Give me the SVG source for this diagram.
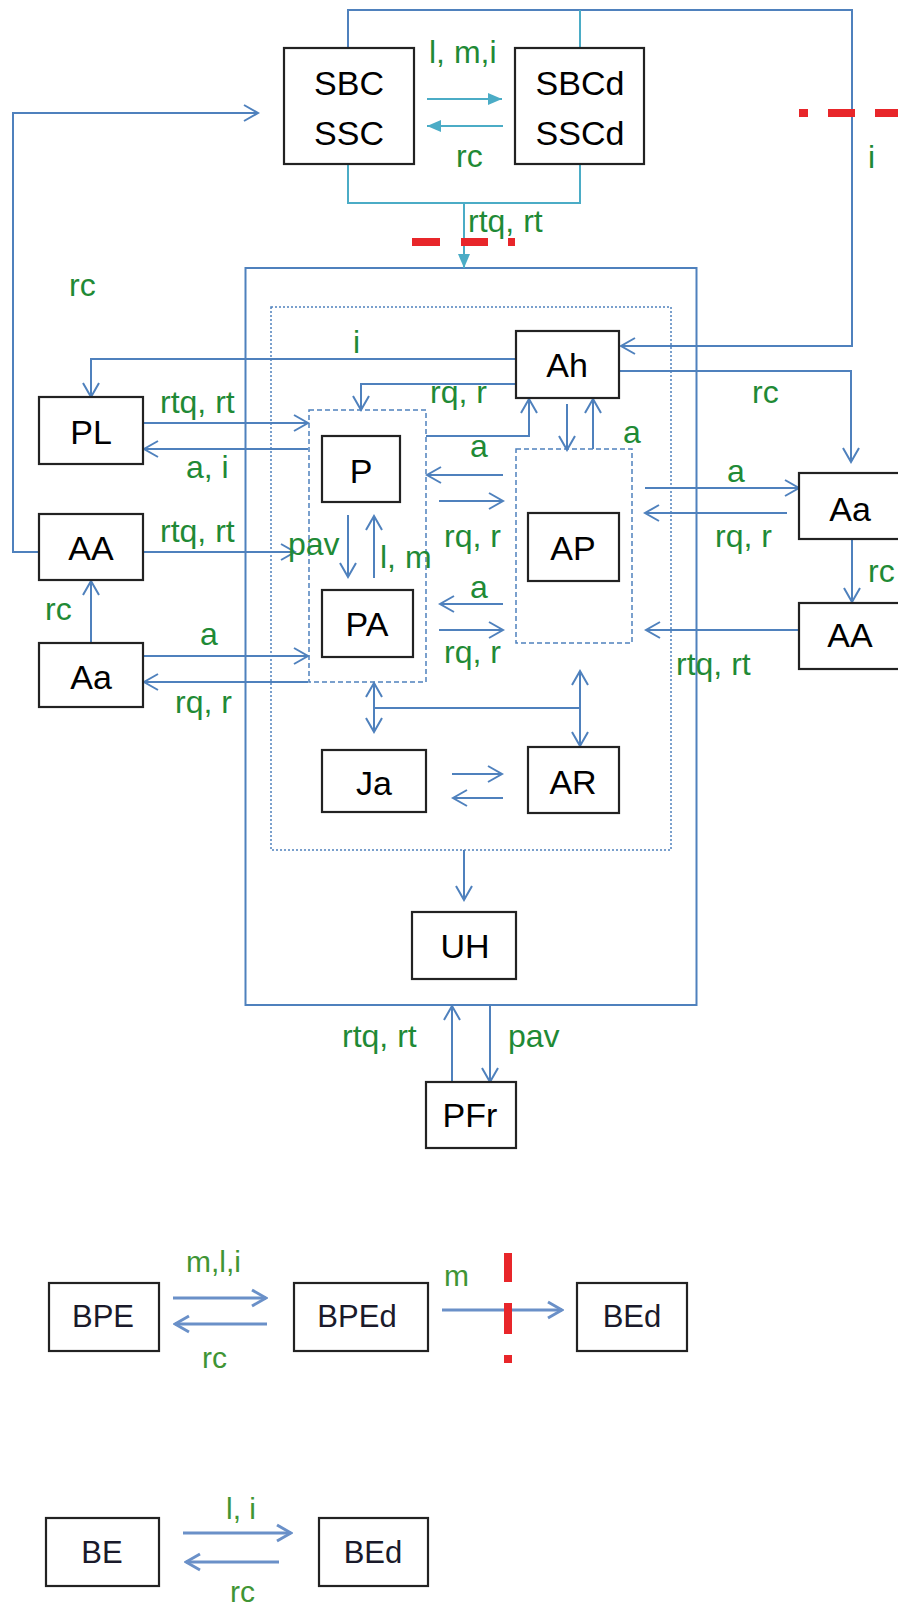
<svg xmlns="http://www.w3.org/2000/svg" width="898" height="1608" viewBox="0 0 898 1608">
<defs>
<style>
.bx{fill:#fff;stroke:#222;stroke-width:2.2}
.nt{font-family:"Liberation Sans",Arial,sans-serif;font-size:34px;fill:#000;text-anchor:middle}
.bt{font-family:"Liberation Sans",Arial,sans-serif;font-size:31px;fill:#1a1a2a;text-anchor:middle}
.gl{font-family:"Liberation Sans",Arial,sans-serif;font-size:32px;fill:#1F8A36}
.gb{font-family:"Liberation Sans",Arial,sans-serif;font-size:30px;fill:#3F9535}
.c{fill:none;stroke:#4F81BD;stroke-width:2}
.ct{fill:none;stroke:#4BACC6;stroke-width:2}
.cb{fill:none;stroke:#6A90C8;stroke-width:3}
.a{marker-end:url(#ar)}
.at{marker-end:url(#art)}
.ab{marker-end:url(#arb)}
.aa{marker-start:url(#ar);marker-end:url(#ar)}
.rd{stroke:#E8262A;stroke-width:8;fill:none}
</style>
<marker id="ar" markerUnits="userSpaceOnUse" markerWidth="18" markerHeight="20" viewBox="0 0 18 20" refX="16" refY="10" orient="auto-start-reverse">
<path d="M2,2 L16,10 L2,18" fill="none" stroke="#4F81BD" stroke-width="2"/>
</marker>
<marker id="arb" markerUnits="userSpaceOnUse" markerWidth="18" markerHeight="20" viewBox="0 0 18 20" refX="16" refY="10" orient="auto">
<path d="M2,2 L16,10 L2,18" fill="none" stroke="#6A90C8" stroke-width="3"/>
</marker>
<marker id="art" markerUnits="userSpaceOnUse" markerWidth="14" markerHeight="12" viewBox="0 0 14 12" refX="14" refY="6" orient="auto">
<path d="M0,0 L14,6 L0,12 z" fill="#4BACC6"/>
</marker>
</defs>

<g id="containers">
<rect x="245.5" y="268" width="451" height="737" fill="none" stroke="#4F81BD" stroke-width="2"/>
<rect x="271" y="307" width="400" height="543" fill="none" stroke="#4F81BD" stroke-width="1.5" stroke-dasharray="2,2"/>
<rect x="309" y="410" width="117" height="272" fill="none" stroke="#4F81BD" stroke-width="1.5" stroke-dasharray="5,3"/>
<rect x="516" y="449" width="116" height="194" fill="none" stroke="#4F81BD" stroke-width="1.5" stroke-dasharray="5,3"/>
</g>

<g id="connectors">
<path class="c a" d="M348,48 V10 H852 V346 H621"/>
<path class="ct" d="M580,10 V48"/>
<path class="c a" d="M39,552 H13 V113 H258"/>
<path class="ct at" d="M427,99 H502"/>
<path class="ct at" d="M503,126 H427"/>
<path class="ct" d="M348,164 V203 H580 V164"/>
<path class="ct at" d="M464,203 V268"/>
<path class="c a" d="M516,359 H91 V397"/>
<path class="c a" d="M516,384 H361 V410"/>
<path class="c a" d="M426,436 H529 V399"/>
<path class="c a" d="M567,404 V450"/>
<path class="c a" d="M593,449 V399"/>
<path class="c a" d="M619,371 H851 V462"/>
<path class="c a" d="M143,423 H308"/>
<path class="c a" d="M308,449 H144"/>
<path class="c a" d="M143,552 H295"/>
<path class="c a" d="M91,643 V581"/>
<path class="c a" d="M143,656 H308"/>
<path class="c a" d="M308,682 H144"/>
<path class="c a" d="M348,515 V577"/>
<path class="c a" d="M374,578 V516"/>
<path class="c a" d="M503,475 H427"/>
<path class="c a" d="M439,501 H503"/>
<path class="c a" d="M503,604 H440"/>
<path class="c a" d="M439,630 H503"/>
<path class="c a" d="M645,488 H799"/>
<path class="c a" d="M787,513 H645"/>
<path class="c a" d="M852,539 V602"/>
<path class="c a" d="M799,630 H646"/>
<path class="c aa" d="M374,683 V732"/>
<path class="c" d="M374,708 H580"/>
<path class="c aa" d="M580,671 V746"/>
<path class="c a" d="M452,774 H502"/>
<path class="c a" d="M503,798 H453"/>
<path class="c a" d="M464,850 V900"/>
<path class="c a" d="M452,1082 V1006"/>
<path class="c a" d="M490,1005 V1082"/>
<path class="cb ab" d="M173,1298 H266"/>
<path class="cb ab" d="M267,1324 H175"/>
<path class="cb ab" d="M442,1310 H562"/>
<path class="cb ab" d="M183,1533 H291"/>
<path class="cb ab" d="M279,1562 H186"/>
</g>

<g id="boundaries">
<path class="rd" d="M412,242 H440 M461,242 H488 M508,242 H515"/>
<path class="rd" d="M799,113 H808 M828,113 H855 M875,113 H898"/>
<path class="rd" stroke-width="5" d="M508,1253 V1282 M508,1303 V1334 M508,1355 V1363"/>
</g>

<g id="SBC"><rect class="bx" x="284" y="48" width="130" height="116"/><text class="nt" x="349" y="95">SBC</text><text class="nt" x="349" y="145">SSC</text></g>
<g id="SBCd"><rect class="bx" x="515" y="48" width="129" height="116"/><text class="nt" x="580" y="95">SBCd</text><text class="nt" x="580" y="145">SSCd</text></g>
<g id="Ah"><rect class="bx" x="516" y="331" width="103" height="67"/><text class="nt" x="567" y="377">Ah</text></g>
<g id="PL"><rect class="bx" x="39" y="397" width="104" height="67"/><text class="nt" x="91" y="444">PL</text></g>
<g id="P"><rect class="bx" x="322" y="436" width="78" height="66"/><text class="nt" x="361" y="483">P</text></g>
<g id="AA-left"><rect class="bx" x="39" y="514" width="104" height="66"/><text class="nt" x="91" y="560">AA</text></g>
<g id="PA"><rect class="bx" x="322" y="590" width="91" height="67"/><text class="nt" x="367" y="636">PA</text></g>
<g id="Aa-left"><rect class="bx" x="39" y="643" width="104" height="64"/><text class="nt" x="91" y="689">Aa</text></g>
<g id="AP"><rect class="bx" x="528" y="513" width="91" height="68"/><text class="nt" x="573" y="560">AP</text></g>
<g id="Aa-right"><rect class="bx" x="799" y="473" width="110" height="66"/><text class="nt" x="850" y="521">Aa</text></g>
<g id="AA-right"><rect class="bx" x="799" y="603" width="110" height="66"/><text class="nt" x="850" y="647">AA</text></g>
<g id="Ja"><rect class="bx" x="322" y="750" width="104" height="62"/><text class="nt" x="374" y="795">Ja</text></g>
<g id="AR"><rect class="bx" x="528" y="747" width="91" height="66"/><text class="nt" x="573" y="794">AR</text></g>
<g id="UH"><rect class="bx" x="412" y="912" width="104" height="67"/><text class="nt" x="465" y="958">UH</text></g>
<g id="PFr"><rect class="bx" x="426" y="1082" width="90" height="66"/><text class="nt" x="470" y="1127">PFr</text></g>
<g id="BPE"><rect class="bx" x="49" y="1283" width="110" height="68" stroke-width="3"/><text class="bt" x="103" y="1327">BPE</text></g>
<g id="BPEd"><rect class="bx" x="294" y="1283" width="134" height="68" stroke-width="3"/><text class="bt" x="357" y="1327">BPEd</text></g>
<g id="BEd-top"><rect class="bx" x="577" y="1283" width="110" height="68" stroke-width="3"/><text class="bt" x="632" y="1327">BEd</text></g>
<g id="BE"><rect class="bx" x="46" y="1518" width="113" height="68" stroke-width="3"/><text class="bt" x="102" y="1563">BE</text></g>
<g id="BEd"><rect class="bx" x="319" y="1518" width="109" height="68" stroke-width="3"/><text class="bt" x="373" y="1563">BEd</text></g>

<g id="labels">
<text class="gl" x="429" y="63">l, m,i</text>
<text class="gl" x="456" y="167">rc</text>
<text class="gl" x="468" y="232">rtq, rt</text>
<text class="gl" x="868" y="168">i</text>
<text class="gl" x="69" y="296">rc</text>
<text class="gl" x="353" y="353">i</text>
<text class="gl" x="160" y="413">rtq, rt</text>
<text class="gl" x="186" y="478">a, i</text>
<text class="gl" x="430" y="403">rq, r</text>
<text class="gl" x="470" y="457">a</text>
<text class="gl" x="623" y="443">a</text>
<text class="gl" x="752" y="403">rc</text>
<text class="gl" x="444" y="547">rq, r</text>
<text class="gl" x="470" y="598">a</text>
<text class="gl" x="444" y="663">rq, r</text>
<text class="gl" x="288" y="555">pav</text>
<text class="gl" x="380" y="568">l, m</text>
<text class="gl" x="160" y="542">rtq, rt</text>
<text class="gl" x="45" y="620">rc</text>
<text class="gl" x="200" y="645">a</text>
<text class="gl" x="175" y="713">rq, r</text>
<text class="gl" x="727" y="482">a</text>
<text class="gl" x="715" y="547">rq, r</text>
<text class="gl" x="868" y="582">rc</text>
<text class="gl" x="676" y="675">rtq, rt</text>
<text class="gl" x="342" y="1047">rtq, rt</text>
<text class="gl" x="508" y="1047">pav</text>
<text class="gb" x="186" y="1272">m,l,i</text>
<text class="gb" x="202" y="1368">rc</text>
<text class="gb" x="444" y="1286">m</text>
<text class="gb" x="226" y="1519">l, i</text>
<text class="gb" x="230" y="1602">rc</text>
</g>
</svg>
